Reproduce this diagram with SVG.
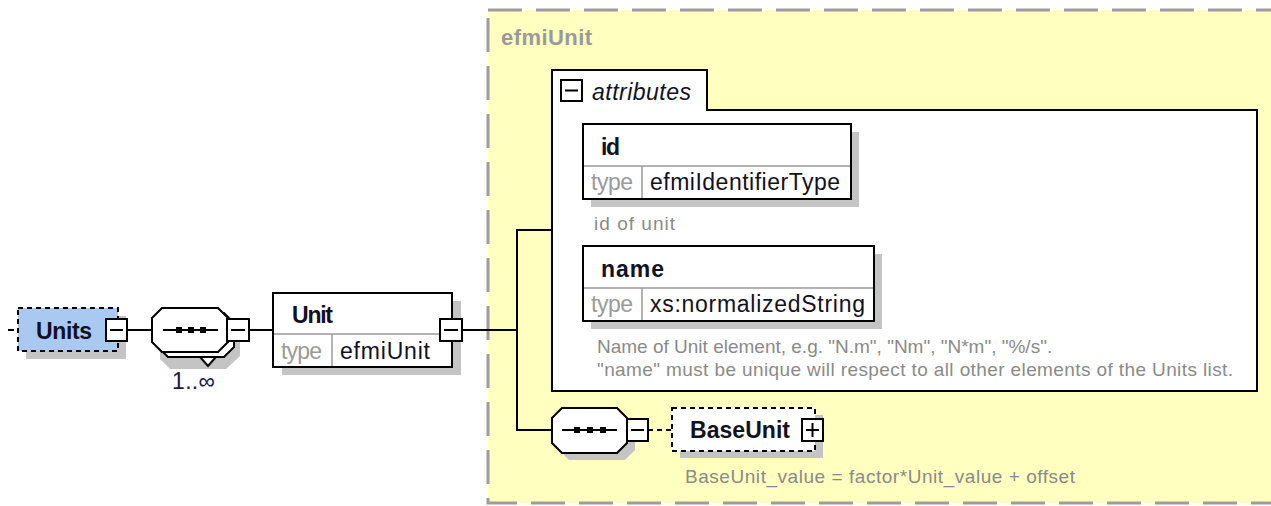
<svg xmlns="http://www.w3.org/2000/svg" width="1271" height="506" viewBox="0 0 1271 506">
<style>
.t{font-family:"Liberation Sans",Arial,sans-serif;}
.b{font-weight:bold;font-size:23px;fill:#111122;}
.v{font-size:23px;fill:#111122;}
.ty{font-size:23px;fill:#9a9a9a;}
.d{font-size:19px;fill:#8a8a8a;}
.box{fill:#fff;stroke:#000;stroke-width:2;}
.sh{fill:#c4c4c4;}
.dv{stroke:#9a9a9a;stroke-width:1.5;}
.ln{stroke:#000;stroke-width:2;fill:none;}
.pm{fill:#fff;stroke:#000;stroke-width:2;}
</style>
<rect width="1271" height="506" fill="#fff"/>
<g id="efmiUnit-type">
<rect x="488" y="10" width="800" height="493" fill="#ffffc0" stroke="#9d9d9d" stroke-width="3" stroke-dasharray="34 14"/>
<text class="t" x="501" y="45" font-weight="bold" font-size="22" fill="#9a9a9a" textLength="91">efmiUnit</text>
</g>
<g id="connectors">
<line class="ln" x1="8" y1="330" x2="14" y2="330"/>
<line class="ln" x1="127" y1="330" x2="153" y2="330"/>
<line class="ln" x1="249" y1="330" x2="273" y2="330"/>
<line class="ln" x1="462" y1="330" x2="517" y2="330"/>
<path class="ln" d="M552,230 H517 V430 H552"/>
<line class="ln" x1="648" y1="430" x2="672" y2="430" stroke-dasharray="5 4"/>
</g>
<g id="Units">
<rect class="sh" x="26" y="316" width="100" height="43"/>
<rect x="18" y="308" width="100" height="43" fill="#a9c9f1" stroke="#000" stroke-width="2" stroke-dasharray="5 4"/>
<text class="t b" x="36" y="339" textLength="56">Units</text>
<rect class="pm" x="106" y="319" width="21" height="22"/>
<line class="ln" x1="110" y1="330" x2="123" y2="330"/>
</g>
<g id="sequence1">
<polygon class="sh" points="170,321 226,321 240,335 240,356 226,369 170,369 160,359 160,331"/>
<polygon class="box" points="168,313 224,313 234,323 234,347 224,357 168,357 158,347 158,323"/>
<polygon class="box" points="200,357 216,357 208,366"/>
<polygon class="box" points="162,308 218,308 228,318 228,342 218,352 162,352 152,342 152,318"/>
<line class="ln" x1="163" y1="330" x2="218" y2="330"/>
<rect x="176" y="327" width="6" height="6" fill="#000"/>
<rect x="188" y="327" width="6" height="6" fill="#000"/>
<rect x="200" y="327" width="6" height="6" fill="#000"/>
<rect class="pm" x="227" y="319" width="22" height="22"/>
<line class="ln" x1="231" y1="330" x2="245" y2="330"/>
<text class="t" x="172" y="389" font-size="23" fill="#1a1a40" textLength="43">1..∞</text>
</g>
<g id="Unit">
<rect class="sh" x="282" y="301" width="179" height="74"/>
<rect class="box" x="273" y="293" width="179" height="74"/>
<line class="dv" x1="274" y1="334" x2="451" y2="334"/>
<line class="dv" x1="332" y1="334" x2="332" y2="366"/>
<text class="t b" x="292" y="323" textLength="41">Unit</text>
<text class="t ty" x="281" y="359" textLength="41">type</text>
<text class="t v" x="340" y="359" textLength="90">efmiUnit</text>
<rect class="pm" x="440" y="319" width="22" height="22"/>
<line class="ln" x1="444" y1="330" x2="458" y2="330"/>
</g>
<g id="attributes">
<path class="box" d="M552,391 V70 H707 V110 H1257 V391 Z"/>
<rect class="pm" x="561" y="80" width="21" height="21"/>
<line class="ln" x1="565" y1="90.5" x2="578" y2="90.5"/>
<text class="t" x="592" y="100" font-style="italic" font-size="23" fill="#111122" textLength="99">attributes</text>
</g>
<g id="id">
<rect class="sh" x="591" y="132" width="268" height="75"/>
<rect class="box" x="583" y="124" width="268" height="75"/>
<line class="dv" x1="584" y1="166" x2="850" y2="166"/>
<line class="dv" x1="642" y1="166" x2="642" y2="198"/>
<text class="t b" x="601" y="155" textLength="19">id</text>
<text class="t ty" x="591" y="190" textLength="42">type</text>
<text class="t v" x="650" y="190" textLength="190">efmiIdentifierType</text>
<text class="t d" x="594" y="230" textLength="81">id of unit</text>
</g>
<g id="name">
<rect class="sh" x="591" y="254" width="291" height="75"/>
<rect class="box" x="583" y="246" width="291" height="75"/>
<line class="dv" x1="584" y1="288" x2="873" y2="288"/>
<line class="dv" x1="642" y1="288" x2="642" y2="320"/>
<text class="t b" x="601" y="277" textLength="63">name</text>
<text class="t ty" x="591" y="312" textLength="42">type</text>
<text class="t v" x="650" y="312" textLength="215">xs:normalizedString</text>
<text class="t d" x="597" y="353">Name of Unit element, e.g. "N.m", "Nm", "N*m", "%/s".</text>
<text class="t d" x="597" y="376" textLength="636">"name" must be unique will respect to all other elements of the Units list.</text>
</g>
<g id="sequence2">
<polygon class="sh" points="569,415 625,415 635,425 635,450 625,460 569,460 559,450 559,425"/>
<polygon class="box" points="562,408 617,408 627,418 627,443 617,453 562,453 552,443 552,418"/>
<line class="ln" x1="562" y1="430" x2="617" y2="430"/>
<rect x="574" y="427" width="6" height="6" fill="#000"/>
<rect x="587" y="427" width="6" height="6" fill="#000"/>
<rect x="600" y="427" width="6" height="6" fill="#000"/>
<rect class="pm" x="627" y="419" width="21" height="22"/>
<line class="ln" x1="631" y1="430" x2="644" y2="430"/>
</g>
<g id="BaseUnit">
<rect class="sh" x="680" y="415" width="143" height="43"/>
<rect x="672" y="408" width="143" height="43" fill="#fff" stroke="#000" stroke-width="2" stroke-dasharray="5 4"/>
<text class="t b" x="690" y="438" textLength="100">BaseUnit</text>
<rect class="pm" x="802" y="419" width="21" height="22"/>
<line class="ln" x1="806" y1="430" x2="819" y2="430"/>
<line class="ln" x1="812.5" y1="423" x2="812.5" y2="437"/>
<text class="t d" x="685" y="483" textLength="390">BaseUnit_value = factor*Unit_value + offset</text>
</g>
</svg>
